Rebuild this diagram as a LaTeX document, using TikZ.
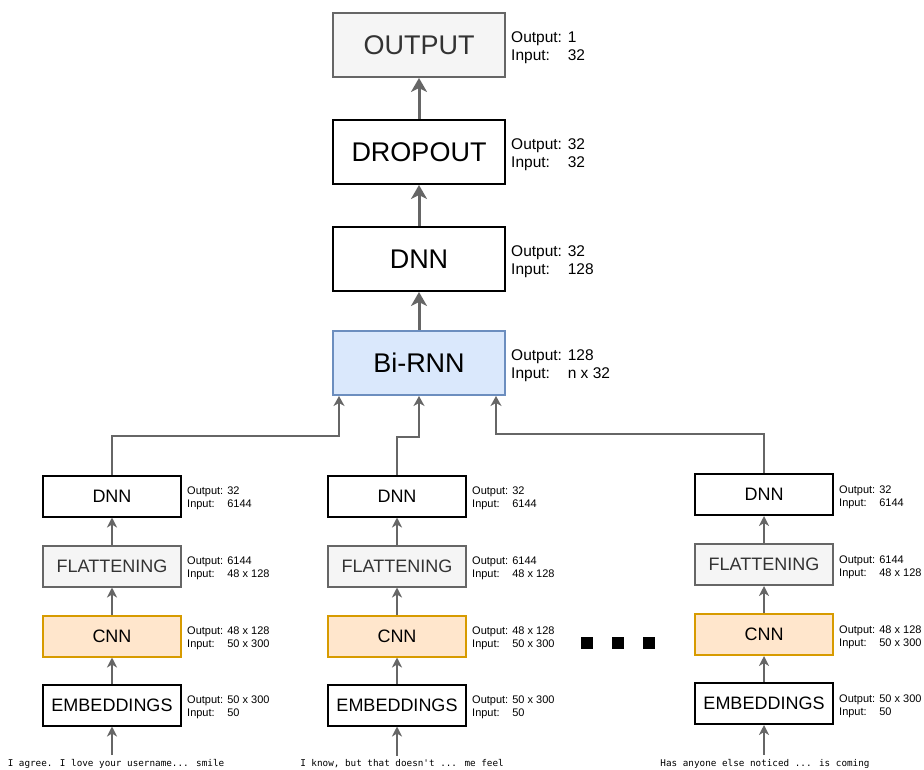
\documentclass[tikz,border=0pt]{standalone}
\usepackage{fontspec}
\setmainfont{Liberation Sans}
\newfontfamily\monofont{DejaVu Sans Mono}
\usetikzlibrary{arrows.meta}
\definecolor{gborder}{HTML}{666666}
\definecolor{gfill}{HTML}{F5F5F5}
\definecolor{gtext}{HTML}{333333}
\definecolor{bfill}{HTML}{DAE8FC}
\definecolor{bborder}{HTML}{6C8EBF}
\definecolor{ofill}{HTML}{FFE6CC}
\definecolor{oborder}{HTML}{D79B00}
\tikzset{
  bigbox/.style={draw, line width=2pt, minimum width=172pt, minimum height=64pt, inner sep=0pt, font=\fontsize{27}{32}\selectfont},
  smallbox/.style={draw, line width=2pt, minimum width=138pt, minimum height=41pt, inner sep=0pt, font=\fontsize{18}{21}\selectfont},
  plainstyle/.style={fill=white, draw=black},
  graystyle/.style={fill=gfill, draw=gborder, text=gtext},
  bluestyle/.style={fill=bfill, draw=bborder},
  orangestyle/.style={fill=ofill, draw=oborder},
  biglabel/.style={anchor=west, inner sep=0pt, font=\fontsize{15.5}{18}\selectfont},
  smalllabel/.style={anchor=west, inner sep=0pt, font=\fontsize{11}{13}\selectfont},
  bigarrow/.style={draw=gborder, line width=3pt, -{Stealth[length=14pt,width=16pt,inset=4pt]}},
  smallarrow/.style={draw=gborder, line width=2pt, -{Stealth[length=10pt,width=10pt,inset=3pt]}},
  conn/.style={draw=gborder, line width=1.5pt, -{Stealth[length=10pt,width=11pt,inset=3pt]}},
  sentence/.style={inner sep=0pt, font=\monofont\fontsize{9.3}{11}\selectfont},
  dot/.style={fill=black, minimum size=12pt, inner sep=0pt},
}
\newcommand{\lbl}[2]{\begin{tabular}{@{}l@{ }l@{}}Output:&#1\\Input:&#2\end{tabular}}
\begin{document}
\begin{tikzpicture}[x=1pt,y=-1pt]
\useasboundingbox (0,0) rectangle (924,770);

% top stack
\node[bigbox,graystyle] (out) at (419,45) {OUTPUT};
\node[bigbox,plainstyle] (drop) at (419,152) {DROPOUT};
\node[bigbox,plainstyle] (dnn) at (419,259) {DNN};
\node[bigbox,bluestyle] (rnn) at (419,363) {Bi-RNN};

\node[biglabel] (lout) at (511,48) {\lbl{1}{32}};
\node[biglabel] (ldrop) at (511,155) {\lbl{32}{32}};
\node[biglabel] (ldnn) at (511,262) {\lbl{32}{128}};
\node[biglabel] (lrnn) at (511,366) {\lbl{128}{n x 32}};

\draw[bigarrow] (drop.north) -- (out.south);
\draw[bigarrow] (dnn.north) -- (drop.south);
\draw[bigarrow] (rnn.north) -- (dnn.south);

% columns
\foreach \c/\x/\dy/\tx/\txt in {1/112/0/116/{I agree. I love your username... smile},
                               2/397/0/402/{I know, but that doesn't ... me feel},
                               3/764/-1.5/765/{Has anyone else noticed ... is coming}} {
  \node[smallbox,plainstyle] (d\c) at (\x,496+\dy) {DNN};
  \node[smallbox,graystyle] (f\c) at (\x,566+\dy) {FLATTENING};
  \node[smallbox,orangestyle] (c\c) at (\x,636+\dy) {CNN};
  \node[smallbox,plainstyle] (e\c) at (\x,705+\dy) {EMBEDDINGS};
  \node[smalllabel] (ld\c) at (\x+75,498.5+\dy) {\lbl{32}{6144}};
  \node[smalllabel] (lf\c) at (\x+75,568.5+\dy) {\lbl{6144}{48 x 128}};
  \node[smalllabel] (lc\c) at (\x+75,638.5+\dy) {\lbl{48 x 128}{50 x 300}};
  \node[smalllabel] (le\c) at (\x+75,707.5+\dy) {\lbl{50 x 300}{50}};
  \node[sentence] (t\c) at (\tx,764) {\txt};
  \draw[smallarrow] (t\c.north -| e\c.south) ++(0,-4) -- (e\c.south);
  \draw[smallarrow] (e\c.north) -- (c\c.south);
  \draw[smallarrow] (c\c.north) -- (f\c.south);
  \draw[smallarrow] (f\c.north) -- (d\c.south);
}

% connectors to Bi-RNN
\draw[conn] (d1.north) -- (d1.north |- {(0,436)}) -| ([xshift=7pt]rnn.south west);
\draw[conn] (d2.north) -- (d2.north |- {(0,437)}) -| (rnn.south);
\draw[conn] (d3.north) -- (d3.north |- {(0,434)}) -| ([xshift=-10pt]rnn.south east);

% dots
\node[dot] (dot1) at (587,643) {};
\node[dot] (dot2) at (618,643) {};
\node[dot] (dot3) at (649,643) {};
\end{tikzpicture}
\end{document}
